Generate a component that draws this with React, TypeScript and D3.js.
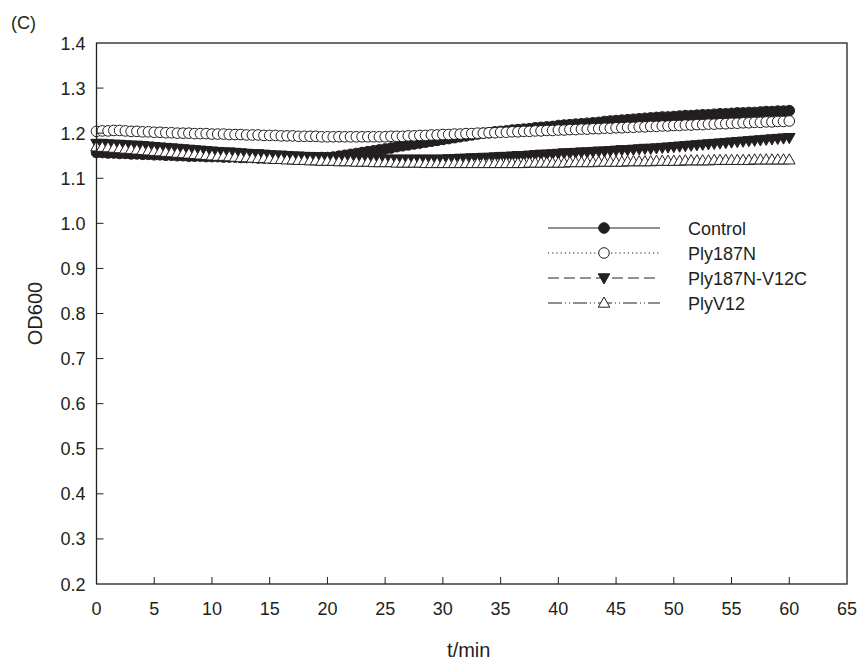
import React from "react";
import * as d3 from "d3";

// sampling times (min), one reading every 0.5 min
const times: number[] = d3.range(0, 60.5, 0.5);

const control: number[] = [
  1.157, 1.157, 1.156, 1.156, 1.155, 1.155, 1.154, 1.154, 1.153, 1.153,
  1.152, 1.152, 1.151, 1.151, 1.15, 1.15, 1.149, 1.149, 1.149, 1.148,
  1.148, 1.148, 1.147, 1.147, 1.147, 1.146, 1.146, 1.146, 1.145, 1.145,
  1.145, 1.145, 1.144, 1.144, 1.144, 1.144, 1.145, 1.145, 1.145, 1.146,
  1.146, 1.147, 1.149, 1.151, 1.153, 1.155, 1.157, 1.159, 1.161, 1.163,
  1.165, 1.167, 1.17, 1.172, 1.174, 1.176, 1.178, 1.18, 1.182, 1.184,
  1.186, 1.188, 1.19, 1.192, 1.194, 1.196, 1.198, 1.2, 1.201, 1.203,
  1.204, 1.205, 1.207, 1.208, 1.209, 1.21, 1.212, 1.213, 1.214, 1.215,
  1.217, 1.218, 1.219, 1.22, 1.221, 1.222, 1.223, 1.224, 1.226, 1.227,
  1.228, 1.229, 1.23, 1.231, 1.232, 1.233, 1.234, 1.235, 1.236, 1.236,
  1.237, 1.238, 1.239, 1.239, 1.24, 1.241, 1.241, 1.242, 1.243, 1.243,
  1.244, 1.245, 1.245, 1.246, 1.246, 1.247, 1.248, 1.248, 1.249, 1.249,
  1.25,
];

const ply187N: number[] = [
  1.204, 1.205, 1.205, 1.206, 1.206, 1.205, 1.204, 1.204, 1.203, 1.203,
  1.202, 1.202, 1.201, 1.201, 1.2, 1.2, 1.2, 1.199, 1.199, 1.199,
  1.198, 1.198, 1.198, 1.197, 1.197, 1.197, 1.196, 1.196, 1.196, 1.195,
  1.195, 1.195, 1.194, 1.194, 1.194, 1.193, 1.193, 1.193, 1.193, 1.192,
  1.192, 1.192, 1.192, 1.192, 1.192, 1.192, 1.192, 1.192, 1.192, 1.192,
  1.192, 1.193, 1.193, 1.193, 1.194, 1.194, 1.195, 1.195, 1.196, 1.196,
  1.197, 1.197, 1.198, 1.198, 1.199, 1.199, 1.2, 1.2, 1.201, 1.201,
  1.202, 1.202, 1.203, 1.203, 1.204, 1.204, 1.205, 1.205, 1.206, 1.206,
  1.207, 1.207, 1.208, 1.208, 1.209, 1.209, 1.21, 1.21, 1.211, 1.211,
  1.212, 1.212, 1.213, 1.213, 1.214, 1.214, 1.215, 1.215, 1.216, 1.216,
  1.217, 1.217, 1.218, 1.218, 1.219, 1.219, 1.22, 1.22, 1.221, 1.221,
  1.222, 1.222, 1.223, 1.223, 1.224, 1.224, 1.225, 1.225, 1.226, 1.226,
  1.227,
];

const ply187NV12C: number[] = [
  1.177, 1.177, 1.176, 1.175, 1.175, 1.174, 1.173, 1.173, 1.172, 1.171,
  1.17, 1.169, 1.168, 1.167, 1.166, 1.165, 1.164, 1.163, 1.162, 1.161,
  1.16, 1.159, 1.158, 1.158, 1.157, 1.156, 1.155, 1.154, 1.154, 1.153,
  1.152, 1.151, 1.151, 1.15, 1.149, 1.149, 1.148, 1.148, 1.147, 1.147,
  1.146, 1.146, 1.145, 1.145, 1.144, 1.144, 1.144, 1.143, 1.143, 1.143,
  1.142, 1.142, 1.142, 1.142, 1.142, 1.142, 1.142, 1.142, 1.142, 1.142,
  1.142, 1.143, 1.143, 1.144, 1.144, 1.145, 1.145, 1.146, 1.146, 1.147,
  1.148, 1.148, 1.149, 1.15, 1.15, 1.151, 1.152, 1.153, 1.153, 1.154,
  1.155, 1.156, 1.156, 1.157, 1.158, 1.158, 1.159, 1.16, 1.16, 1.161,
  1.162, 1.163, 1.163, 1.164, 1.165, 1.166, 1.166, 1.167, 1.168, 1.169,
  1.17, 1.171, 1.172, 1.173, 1.174, 1.175, 1.176, 1.177, 1.178, 1.179,
  1.18, 1.181, 1.182, 1.183, 1.184, 1.185, 1.186, 1.187, 1.188, 1.189,
  1.19,
];

const plyV12: number[] = [
  1.17, 1.169, 1.168, 1.167, 1.166, 1.165, 1.164, 1.163, 1.162, 1.161,
  1.16, 1.159, 1.158, 1.157, 1.156, 1.155, 1.154, 1.153, 1.152, 1.151,
  1.15, 1.149, 1.149, 1.148, 1.147, 1.146, 1.146, 1.145, 1.144, 1.144,
  1.143, 1.142, 1.142, 1.141, 1.141, 1.14, 1.14, 1.139, 1.139, 1.138,
  1.138, 1.138, 1.137, 1.137, 1.137, 1.136, 1.136, 1.136, 1.135, 1.135,
  1.135, 1.135, 1.134, 1.134, 1.134, 1.134, 1.134, 1.133, 1.133, 1.133,
  1.133, 1.133, 1.133, 1.133, 1.133, 1.133, 1.133, 1.133, 1.133, 1.133,
  1.133, 1.133, 1.133, 1.133, 1.133, 1.134, 1.134, 1.134, 1.134, 1.134,
  1.134, 1.134, 1.135, 1.135, 1.135, 1.135, 1.135, 1.136, 1.136, 1.136,
  1.136, 1.136, 1.137, 1.137, 1.137, 1.137, 1.137, 1.138, 1.138, 1.138,
  1.138, 1.138, 1.139, 1.139, 1.139, 1.139, 1.139, 1.14, 1.14, 1.14,
  1.14, 1.14, 1.14, 1.14, 1.141, 1.141, 1.141, 1.141, 1.141, 1.141,
  1.141,
];

const xTicks = [0, 5, 10, 15, 20, 25, 30, 35, 40, 45, 50, 55, 60, 65];
const yTicks = [0.2, 0.3, 0.4, 0.5, 0.6, 0.7, 0.8, 0.9, 1.0, 1.1, 1.2, 1.3, 1.4];

const seriesNames = ["Control", "Ply187N", "Ply187N-V12C", "PlyV12"];

const width = 861;
const height = 663;
const margin = { top: 43, right: 14, bottom: 79, left: 96.5 };
const FONT = "'Liberation Sans', Arial, sans-serif";
const INK = "#231f20";

// marker shapes
const upTri = "M0,-6L5.8,4.2L-5.8,4.2Z";
const downTri = "M0,6L5.8,-4.2L-5.8,-4.2Z";

type Style = { dash: string | null; marker: "circle" | "tri" | "dtri"; fill: string };
const styles: Style[] = [
  { dash: null, marker: "circle", fill: INK },
  { dash: "1.2,3", marker: "circle", fill: "#fff" },
  { dash: "11,5", marker: "dtri", fill: INK },
  { dash: "14,3,1,3,1,3", marker: "tri", fill: "#fff" },
];

function Marker({ s, x, y }: { s: Style; x: number; y: number }) {
  if (s.marker === "circle")
    return <circle cx={x} cy={y} r={5.3} fill={s.fill} stroke={INK} strokeWidth={1} />;
  return (
    <path
      d={s.marker === "tri" ? upTri : downTri}
      transform={`translate(${x},${y})`}
      fill={s.fill}
      stroke={INK}
      strokeWidth={1}
    />
  );
}

export default function App() {
  const xScale = d3.scaleLinear().domain([0, 65]).range([margin.left, width - margin.right]);
  const yScale = d3.scaleLinear().domain([0.2, 1.4]).range([height - margin.bottom, margin.top]);

  const allSeries = [control, ply187N, ply187NV12C, plyV12];
  const line = d3
    .line<number>()
    .x((_, i) => xScale(times[i]))
    .y((d) => yScale(d));

  const x0 = margin.left;
  const x1 = width - margin.right;
  const y0 = height - margin.bottom;
  const y1 = margin.top;

  const legX = 548;
  const legY = 228;
  const legGap = 25;

  return (
    <svg
      width={width}
      height={height}
      style={{ position: "absolute", left: 0, top: 0, background: "#fff" }}
      fontFamily={FONT}
    >
      <text x={11} y={29} fontSize={18} fill={INK}>(C)</text>

      {/* data */}
      {allSeries.map((vals, k) => (
        <g key={seriesNames[k]}>
          <path
            d={line(vals) || ""}
            fill="none"
            stroke={INK}
            strokeWidth={1}
            strokeDasharray={styles[k].dash || undefined}
          />
          {vals.map((v, i) => (
            <Marker key={i} s={styles[k]} x={xScale(times[i])} y={yScale(v)} />
          ))}
        </g>
      ))}

      {/* frame */}
      <rect x={x0} y={y1} width={x1 - x0} height={y0 - y1} fill="none" stroke={INK} strokeWidth={1.3} />

      {/* x ticks */}
      {xTicks.map((t) => (
        <g key={"x" + t}>
          {t > 0 && t < 65 && (
            <line x1={xScale(t)} x2={xScale(t)} y1={y0} y2={y0 - 7} stroke={INK} strokeWidth={1} />
          )}
          <text x={xScale(t)} y={y0 + 31} fontSize={18} textAnchor="middle" fill={INK}>
            {t}
          </text>
        </g>
      ))}

      {/* y ticks */}
      {yTicks.map((t) => (
        <g key={"y" + t}>
          {t > 0.2 && t < 1.4 && (
            <line x1={x0} x2={x0 + 7} y1={yScale(t)} y2={yScale(t)} stroke={INK} strokeWidth={1} />
          )}
          <text x={x0 - 11} y={yScale(t) + 6.5} fontSize={18} textAnchor="end" fill={INK}>
            {t.toFixed(1)}
          </text>
        </g>
      ))}

      <text x={(x0 + x1) / 2 - 3} y={657} fontSize={20} textAnchor="middle" fill={INK}>t/min</text>
      <text
        transform={`translate(42,${(y0 + y1) / 2}) rotate(-90)`}
        fontSize={20}
        textAnchor="middle"
        fill={INK}
      >
        OD600
      </text>

      {/* legend */}
      {seriesNames.map((name, k) => {
        const y = legY + k * legGap;
        return (
          <g key={"leg" + name}>
            <line
              x1={legX}
              x2={legX + 112}
              y1={y}
              y2={y}
              stroke={INK}
              strokeWidth={1}
              strokeDasharray={styles[k].dash || undefined}
            />
            <Marker s={styles[k]} x={legX + 56} y={y} />
            <text x={legX + 140} y={y + 6.5} fontSize={18} fill={INK}>
              {name}
            </text>
          </g>
        );
      })}
    </svg>
  );
}
